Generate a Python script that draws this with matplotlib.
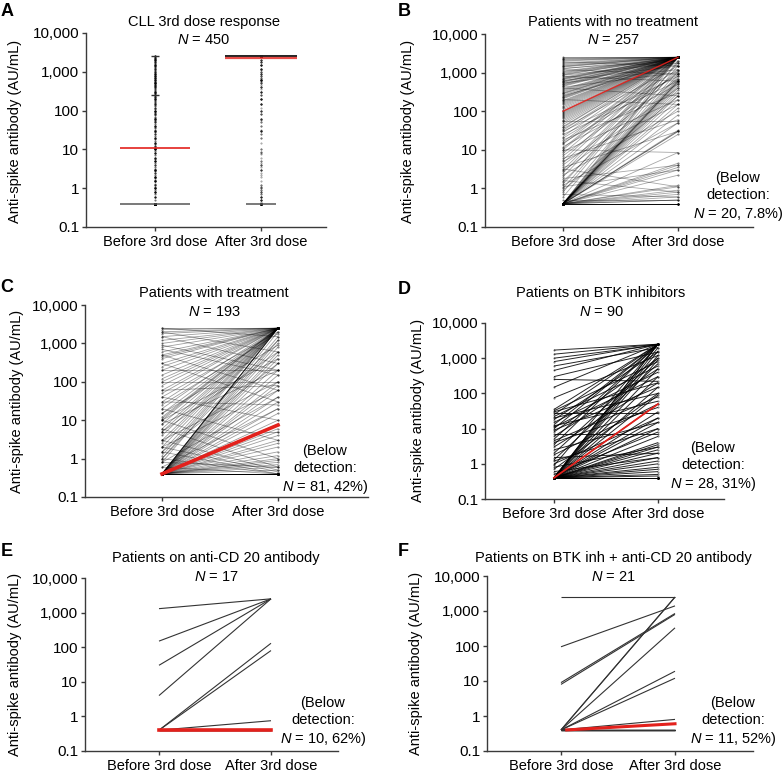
import numpy as np
import matplotlib.pyplot as plt
from matplotlib.ticker import NullLocator

plt.rcParams['font.family'] = ['Liberation Sans', 'DejaVu Sans']
plt.rcParams['mathtext.fontset'] = 'custom'
plt.rcParams['mathtext.it'] = 'Liberation Sans:italic'
plt.rcParams['mathtext.rm'] = 'Liberation Sans'

# ----------------------------------------------------------------- data
ytick_vals = [0.1, 1, 10, 100, 1000, 10000]
ytick_labels = ['0.1', '1', '10', '100', '1,000', '10,000']
x_labels = ['Before 3rd dose', 'After 3rd dose']

B_before = [2500, 2400, 2300, 2200, 2100, 2000, 1900, 1800, 1700, 1600,
            1500, 1450, 1400, 1300, 1250, 1200, 1100, 1050, 1000, 950,
            900, 870, 850, 800, 760, 720, 700, 680, 650, 620,
            600, 580, 560, 540, 520, 500, 480, 460, 440, 420,
            400, 380, 360, 340, 320, 300, 290, 280, 260, 250,
            240, 230, 220, 210, 200, 190, 180, 170, 160, 150,
            140, 130, 120, 110, 100, 95, 90, 85, 80, 75,
            70, 65, 60, 57, 55, 50, 45, 40, 38, 35,
            32, 30, 28, 25, 22, 20, 18, 16, 15, 14,
            12, 11, 10, 10, 9, 8, 7, 6, 5.5, 5,
            4.5, 4, 3.5, 3.2, 3, 2.8, 2.5, 2.2, 2, 1.8,
            1.6, 1.5, 1.3, 1.2, 1.1, 1, 0.9, 0.8, 0.7, 0.6,
            0.5, 0.4, 0.4, 0.4, 0.4, 0.4, 0.4, 0.4, 0.4, 0.4,
            0.4, 0.4, 0.4, 0.4, 0.4, 0.4, 0.4, 0.4, 0.4, 0.4,
            0.4, 0.4, 0.4, 0.4, 0.4, 0.4, 0.4, 0.4, 0.4, 0.4,
            0.4, 0.4, 0.4, 0.4, 0.4, 0.4, 0.4, 0.4, 0.4, 0.4,
            0.4, 0.4, 0.4, 0.4, 0.4, 0.4, 0.4, 0.4, 0.4, 0.4]
B_after = [2500, 2500, 2500, 2500, 2500, 2500, 1500, 2500, 2500, 2500,
           2500, 2500, 2500, 2000, 2500, 900, 2500, 2500, 2500, 2500,
           2500, 2500, 1800, 600, 2500, 2500, 2500, 2500, 2500, 1500,
           2500, 2500, 2500, 1200, 2500, 2500, 2500, 2500, 2500, 1000,
           250, 2500, 2500, 2500, 2500, 2500, 2500, 2500, 2500, 1800,
           2500, 2500, 2500, 2500, 150, 2500, 2500, 2500, 2500, 2500,
           2500, 2500, 2500, 2500, 2500, 2500, 2500, 2500, 2500, 2500,
           2500, 2500, 2500, 57, 2500, 2500, 2500, 2500, 2500, 1500,
           2500, 800, 2500, 600, 2500, 1200, 300, 2500, 900, 2500,
           500, 2500, 8.5, 2500, 200, 2500, 1000, 60, 2500, 150,
           2500, 700, 30, 1.1, 2500, 400, 2500, 100, 2500, 4,
           0.8, 1200, 2500, 50, 3, 2500, 250, 2500, 0.6, 1800,
           0.5, 2500, 2000, 1500, 1100, 900, 800, 700, 650, 600,
           600, 580, 550, 500, 450, 400, 350, 300, 250, 200,
           150, 120, 80, 50, 32, 30, 30, 25, 8.5, 4.5,
           4, 3.5, 3, 2.2, 1.2, 1.1, 0.9, 0.8, 0.7, 0.6,
           0.5, 0.5, 0.4, 0.4, 0.4, 0.4, 0.4, 0.4, 0.4, 0.4]

C_before = [2500, 2300, 2000, 1800, 1500, 1200, 1000, 800, 600, 500,
            450, 400, 300, 250, 200, 150, 120, 100, 80, 60,
            50, 40, 30, 25, 20, 15, 12, 11, 10, 8,
            6, 5, 4, 3, 2.5, 2, 1.5, 1.2, 1, 0.8,
            2500, 2000, 1500, 900, 700, 500, 300, 200, 100, 30,
            5, 60, 40, 20, 10, 6, 3, 2, 1.5, 1,
            0.8, 0.6, 15, 10, 8, 5, 3, 2, 1.5, 1,
            0.8, 0.6, 0.4, 0.4, 0.4, 0.4, 0.4, 0.4, 0.4, 0.4,
            0.4, 0.4, 0.4, 0.4, 0.4, 0.4, 0.4, 0.4, 0.4, 0.4,
            0.4, 0.4, 0.4, 0.4, 0.4, 0.4, 0.4, 0.4, 0.4, 0.4,
            0.4, 0.4, 0.4, 0.4, 0.4, 0.4, 0.4, 0.4, 0.4, 0.4,
            0.4, 0.4, 0.4, 0.4, 0.4, 0.4, 0.4, 0.4, 0.4, 0.4,
            0.4, 0.4, 0.4, 0.4, 0.4, 0.4, 0.4, 0.4, 0.4, 0.4,
            0.4, 0.4, 0.4, 0.4, 0.4, 0.4, 0.4, 0.4, 0.4, 0.4]
C_after = [2500, 2500, 2500, 2500, 2500, 2500, 2500, 2500, 2500, 2500,
           2500, 2500, 2500, 2500, 2500, 2500, 2500, 2500, 2500, 2500,
           2500, 2000, 2500, 1800, 2500, 2500, 2500, 2500, 2500, 2500,
           2500, 2500, 2500, 2500, 2500, 2500, 2500, 2500, 2500, 2500,
           1500, 600, 300, 200, 150, 60, 30, 200, 100, 25,
           5, 80, 10, 3, 1, 0.6, 0.5, 0.45, 0.4, 0.4,
           0.6, 0.4, 900, 400, 200, 600, 100, 60, 300, 1200,
           40, 20, 2500, 2500, 2500, 2500, 2500, 2000, 1500, 1200,
           1000, 800, 600, 500, 400, 300, 200, 150, 100, 80,
           60, 40, 30, 20, 15, 10, 8, 7.5, 6, 5,
           4, 3, 2.5, 2, 1.5, 1.2, 1, 0.9, 0.8, 0.7,
           0.6, 0.5, 0.4, 0.4, 0.4, 0.4, 0.4, 0.4, 0.4, 0.4,
           0.4, 0.4, 0.4, 0.4, 0.4, 0.4, 0.4, 0.4, 0.4, 0.4,
           0.4, 0.4, 0.4, 0.4, 0.4, 0.4, 0.4, 0.4, 0.4, 0.4]

D_before = [1700, 1300, 1000, 800, 600, 450, 300, 250, 150, 75,
            35, 32, 30, 28, 25, 22, 20, 18, 15, 13,
            12, 11, 10, 9, 8, 7, 6, 5, 4.5, 4,
            3.5, 3, 2.5, 2, 1.8, 1.5, 1.3, 1.2, 1, 0.9,
            0.8, 0.7, 0.6, 0.5, 0.4, 0.4, 0.4, 0.4, 0.4, 0.4,
            0.4, 0.4, 0.4, 0.4, 0.4, 0.4, 0.4, 0.4, 0.4, 0.4,
            0.4, 0.4, 0.4, 0.4, 0.4, 0.4, 0.4, 0.4, 0.4, 0.4,
            0.4, 0.4, 0.4, 0.4, 0.4, 0.4, 0.4, 0.4, 0.4, 0.4,
            0.4, 0.4, 0.4, 0.4, 0.4, 0.4, 0.4, 0.4, 0.4, 0.4]
D_after = [2500, 2500, 2400, 2500, 2000, 2500, 1500, 220, 2500, 1200,
           2500, 800, 200, 28, 2500, 600, 100, 1500, 400, 2500,
           60, 300, 2500, 150, 1000, 7, 500, 2500, 80, 40,
           2500, 200, 15, 1000, 50, 2, 700, 10, 20, 2500,
           3, 100, 1.5, 8, 2500, 2500, 2000, 1600, 1200, 900,
           500, 300, 150, 90, 50, 30, 20, 15, 10, 6,
           4, 3.5, 3, 2.5, 2, 1.5, 1.2, 1, 0.8, 0.7,
           0.6, 0.5, 0.45, 0.4, 0.4, 0.4, 0.4, 0.4, 0.4, 0.4,
           0.4, 0.4, 0.4, 0.4, 0.4, 0.4, 0.4, 0.4, 0.4, 0.4]

E_before = [1300, 150, 30, 4, 0.4, 0.4, 0.4,
            0.4, 0.4, 0.4, 0.4, 0.4, 0.4, 0.4, 0.4, 0.4, 0.4]
E_after = [2500, 2500, 2500, 2500, 130, 80, 0.75,
           0.4, 0.4, 0.4, 0.4, 0.4, 0.4, 0.4, 0.4, 0.4, 0.4]

F_before = [2500, 95, 9, 8, 0.4, 0.4, 0.4, 0.4, 0.4, 0.4,
            0.4, 0.4, 0.4, 0.4, 0.4, 0.4, 0.4, 0.4, 0.4, 0.4, 0.4]
F_after = [2500, 1400, 850, 800, 2500, 2500, 330, 19, 12, 0.8,
           0.4, 0.4, 0.4, 0.4, 0.4, 0.4, 0.4, 0.4, 0.4, 0.4, 0.4]

# medians (red lines) and range marks
A_med = [11, 2300]
A_range_before = [0.4, 250, 2500]
A_range_after = [0.4, 2500]
B_med = [100, 2500]
C_med = [0.4, 7.5]
D_med = [0.4, 50]
E_med = [0.4, 0.4]
F_med = [0.4, 0.6]

RED = '#e3211c'
W, H = 782, 773

fig = plt.figure(figsize=(W / 100, H / 100), dpi=100)


def px(x, y):
    return x / W, 1 - y / H


def make_ax(left, right, top, bottom, x0, x1):
    # pixel box of the axes, x0/x1 = pixel of before/after tick
    ax = fig.add_axes([left / W, 1 - bottom / H, (right - left) / W, (bottom - top) / H])
    scale = x1 - x0
    ax.set_xlim((left - x0) / scale, (right - x0) / scale)
    ax.set_yscale('log')
    ax.set_ylim(0.1, 10000)
    ax.set_yticks(ytick_vals)
    ax.set_yticklabels(ytick_labels)
    ax.yaxis.set_minor_locator(NullLocator())
    ax.set_xticks([0, 1])
    ax.set_xticklabels(x_labels)
    for s in ['top', 'right']:
        ax.spines[s].set_visible(False)
    for s in ['left', 'bottom']:
        ax.spines[s].set_color('#3a3a3a')
        ax.spines[s].set_linewidth(1.0)
    ax.tick_params(axis='y', labelsize=11, length=3, width=1, color='#3a3a3a', pad=2)
    ax.tick_params(axis='x', labelsize=10.5, length=3, width=1, color='#3a3a3a', pad=2.5)
    ax.patch.set_alpha(0)
    return ax


def titles(cx, y1, y2, title, n):
    fig.text(*px(cx, y1), title, ha='center', va='center', fontsize=10.5)
    fig.text(*px(cx, y2), '$N$ = %d' % n, ha='center', va='center', fontsize=10.5)


def ylabel(x, y):
    fig.text(*px(x, y), 'Anti-spike antibody (AU/mL)', rotation=90,
             ha='center', va='center', fontsize=10.5)


def letter(x, y, s):
    fig.text(*px(x, y), s, ha='center', va='center', fontsize=13, fontweight='bold')


def below(cx, cy, n, pct):
    fig.text(*px(cx, cy), '(Below\ndetection:\n$N$ = %d, %s)' % (n, pct),
             ha='center', va='center', multialignment='center',
             fontsize=10.5, linespacing=1.25)


def paired(ax, before, after, color, lw, alpha, dots=True):
    b = np.array(before)
    a = np.array(after)
    xs = np.vstack([np.zeros(len(b)), np.ones(len(a))])
    ax.plot(xs, np.vstack([b, a]), color=color, lw=lw, alpha=alpha, solid_capstyle='butt')
    if dots:
        ax.plot(np.zeros(len(b)), b, ls='none', marker='.', ms=1.0, color='k', alpha=0.5)
        ax.plot(np.ones(len(a)), a, ls='none', marker='.', ms=1.0, color='k', alpha=0.5)


# ----------------------------------------------------------------- A
axA = make_ax(86, 326, 33, 227, 155, 261)
allb = np.array(B_before + C_before)
alla = np.array(B_after + C_after)
axA.plot(np.zeros(len(allb)), allb, ls='none', marker='.', ms=1.0, color='k', alpha=0.6)
axA.plot(np.ones(len(alla)), alla, ls='none', marker='.', ms=0.8, color='k', alpha=0.45)
axA.hlines(A_range_before[0], -0.33, 0.33, color='#555555', lw=1.1)
axA.hlines(A_range_before[1:], -0.04, 0.04, color='#333333', lw=1.0)
axA.hlines(A_med[0], -0.33, 0.33, color=RED, lw=1.2)
axA.hlines(A_range_after[1], 0.66, 1.34, color='#222222', lw=1.4)
axA.hlines(A_med[1], 0.66, 1.34, color=RED, lw=1.6, alpha=0.8)
axA.hlines(A_range_after[0], 0.86, 1.14, color='#555555', lw=1.1)
titles(204, 22, 40, 'CLL 3rd dose response', 450)
ylabel(15, 131)
letter(7, 11, 'A')

# ----------------------------------------------------------------- B
axB = make_ax(485, 753, 34, 227, 563, 678)
paired(axB, B_before, B_after, 'k', 0.6, 0.35)
axB.plot([0, 1], B_med, color=RED, lw=1.0, alpha=0.9)
titles(613, 22, 40, 'Patients with no treatment', 257)
ylabel(408, 131)
letter(404, 11, 'B')
below(738, 197, 20, '7.8%')

# ----------------------------------------------------------------- C
axC = make_ax(85, 368, 305, 497, 162, 278)
paired(axC, C_before, C_after, 'k', 0.6, 0.38)
axC.plot([0, 1], C_med, color=RED, lw=2.6)
titles(214, 293, 312, 'Patients with treatment', 193)
ylabel(17, 401)
letter(7, 287, 'C')
below(325, 470, 81, '42%')

# ----------------------------------------------------------------- D
axD = make_ax(485, 724, 323, 499, 554, 658)
paired(axD, D_before, D_after, 'k', 0.7, 0.85)
axD.plot([0, 1], D_med, color=RED, lw=1.3)
titles(601, 293, 312, 'Patients on BTK inhibitors', 90)
ylabel(418, 410)
letter(404, 290, 'D')
below(713, 467, 28, '31%')

# ----------------------------------------------------------------- E
axE = make_ax(85, 338, 578, 751, 159, 271)
paired(axE, E_before, E_after, '#333333', 0.8, 1.0, dots=False)
axE.plot([0, 1], E_med, color=RED, lw=2.6)
titles(216, 558, 577, 'Patients on anti-CD 20 antibody', 17)
ylabel(15, 664)
letter(7, 552, 'E')
below(323, 722, 10, '62%')

# ----------------------------------------------------------------- F
axF = make_ax(487, 753, 576, 751, 561, 675)
paired(axF, F_before, F_after, '#333333', 0.8, 1.0, dots=False)
axF.plot([0.05, 1], F_med, color=RED, lw=2.2)
titles(613, 558, 577, 'Patients on BTK inh + anti-CD 20 antibody', 21)
ylabel(416, 663)
letter(403, 552, 'F')
below(733, 722, 11, '52%')

fig.savefig('out.png', dpi=100)
